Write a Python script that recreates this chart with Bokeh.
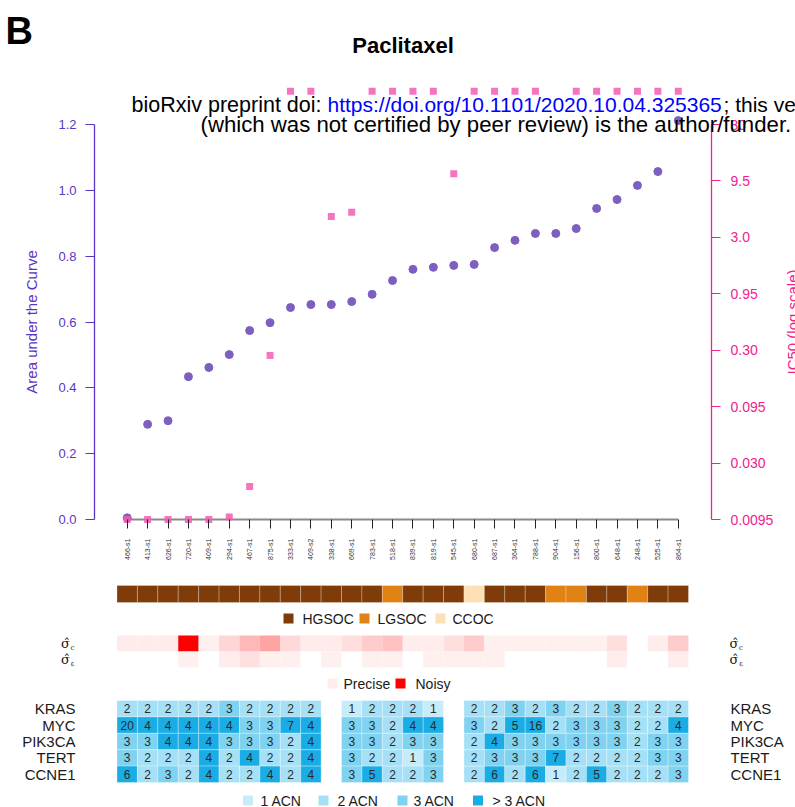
import math
from bokeh.plotting import figure
from bokeh.models import (Range1d, LinearScale, LogScale, LinearAxis, LogAxis, FixedTicker,
                          NumeralTickFormatter, Label)
from bokeh.embed import file_html
from bokeh.resources import INLINE
from bokeh.core.properties import value

nan = float("nan")

# ---------------- data ----------------
samples = ["466-s1", "413-s1", "626-s1", "720-s1", "409-s1", "294-s1", "467-s1", "875-s1",
           "333-s1", "409-s2", "338-s1", "669-s1", "783-s1", "518-s1", "839-s1", "819-s1",
           "545-s1", "680-s1", "687-s1", "364-s1", "788-s1", "904-s1", "156-s1", "800-s1",
           "648-s1", "248-s1", "525-s1", "864-s1"]
auc = [0.005, 0.289, 0.300, 0.434, 0.462, 0.501, 0.574, 0.598, 0.644, 0.653, 0.653, 0.662,
       0.684, 0.726, 0.760, 0.766, 0.772, 0.775, 0.826, 0.848, 0.869, 0.869, 0.884, 0.945,
       0.972, 1.015, 1.057, 1.212]
ic50 = [0.0095, 0.0095, 0.0095, 0.0095, 0.0095, 0.0100, 0.0186, 0.27, 59.0, 59.0, 4.6, 5.0,
        59.0, 59.0, 59.0, 59.0, 11.0, 59.0, 59.0, 59.0, 59.0, nan, 59.0, 59.0,
        59.0, 59.0, 59.0, 59.0]
histotype = ["HGSOC", "HGSOC", "HGSOC", "HGSOC", "HGSOC", "HGSOC", "HGSOC", "HGSOC",
             "HGSOC", "HGSOC", "HGSOC", "HGSOC", "HGSOC", "LGSOC", "HGSOC", "HGSOC",
             "HGSOC", "CCOC", "HGSOC", "HGSOC", "HGSOC", "LGSOC", "LGSOC", "HGSOC",
             "HGSOC", "LGSOC", "HGSOC", "HGSOC"]
sigma_c = [0.08, 0.08, 0.08, 1.0, 0.06, 0.16, 0.28, 0.36, 0.15, 0.08, 0.08, 0.13, 0.20, 0.24,
           0.07, 0.07, 0.13, 0.20, 0.06, 0.06, 0.06, 0.06, 0.06, 0.06, 0.13, 0.0, 0.07, 0.20]
sigma_e = [0.0, 0.0, 0.0, 0.06, 0.0, 0.07, 0.12, 0.06, 0.06, 0.0, 0.06, 0.0, 0.06, 0.06,
           0.0, 0.06, 0.06, 0.06, 0.06, 0.0, 0.0, 0.0, 0.0, 0.0, 0.07, 0.0, 0.0, 0.07]
genes = ["KRAS", "MYC", "PIK3CA", "TERT", "CCNE1"]
kras_acn = [2, 2, 2, 2, 2, 3, 2, 2, 2, 2, None, 1, 2, 2, 2, 1, None,
            2, 2, 3, 2, 3, 2, 2, 3, 2, 2, 2]
myc_acn = [20, 4, 4, 4, 4, 4, 3, 3, 7, 4, None, 3, 3, 2, 4, 4, None,
           3, 2, 5, 16, 2, 3, 3, 3, 2, 2, 4]
pik3ca_acn = [3, 3, 4, 4, 4, 3, 3, 3, 2, 4, None, 3, 3, 2, 3, 3, None,
              2, 4, 3, 3, 3, 3, 3, 3, 2, 3, 3]
tert_acn = [3, 2, 2, 2, 4, 2, 4, 2, 2, 4, None, 3, 2, 2, 1, 3, None,
            2, 3, 3, 3, 7, 2, 2, 2, 2, 3, 3]
ccne1_acn = [6, 2, 3, 2, 4, 2, 2, 4, 2, 4, None, 3, 5, 2, 2, 3, None,
             2, 6, 2, 6, 1, 2, 5, 2, 2, 2, 3]
acn_rows = [kras_acn, myc_acn, pik3ca_acn, tert_acn, ccne1_acn]
hist_names = ["HGSOC", "LGSOC", "CCOC"]
acn_labels = ["1 ACN", "2 ACN", "3 ACN", "> 3 ACN"]
auc_ticks = [0.0, 0.2, 0.4, 0.6, 0.8, 1.0, 1.2]
ic50_ticks = [0.0095, 0.03, 0.095, 0.3, 0.95, 3.0, 9.5, 30.0]
ic50_tick_labels = ["0.0095", "0.030", "0.095", "0.30", "0.95", "3.0", "9.5", "30"]

# ---------------- style ----------------
FONT = "Liberation Sans"
PURPLE = "#5b35c4"
PT_PURPLE = "#7d5fbf"
PINK = "#f0228f"
PINK_SQ = "#f25db1"
HIST_COL = {"HGSOC": "#7f3b08", "LGSOC": "#e08214", "CCOC": "#fee0b6"}
ACN_COL = ["#c6ebf9", "#a5e0f6", "#7fd2f0", "#1aade5"]
RED_PAL = ["#ff%02x%02x" % (255 - i, 255 - i) for i in range(256)]
TXT = "#1a1a1a"


def acn_color(v):
    return ACN_COL[min(v, 4) - 1]


def red_color(v):
    return RED_PAL[int(round(v * 255))]


W, H = 795, 807
COL0, COLW = 116.5, 20.41          # left edge of first column, column pitch (px)


def px2x(px):
    return 0.5 + (px - COL0) / COLW


xs = list(range(1, len(samples) + 1))

# scatter panel geometry (canvas px)
AX_L, AX_R, AX_B = 94, 711, 528    # left axis x, right axis x, x-axis (tick base) y
Y0, Y1 = 519, 124                  # px of lowest / highest axis tick
k = (auc_ticks[-1] - auc_ticks[0]) / (Y0 - Y1)
lg0, lg1 = math.log10(ic50_ticks[0]), math.log10(ic50_ticks[-1])
lk = (lg1 - lg0) / (Y0 - Y1)

p = figure(width=W, height=H, output_backend="svg", toolbar_location=None,
           x_range=Range1d(px2x(0), px2x(W)),
           y_range=Range1d(-(H - Y0) * k, Y0 * k),
           x_axis_location=None, y_axis_location=None,
           min_border=0, min_border_left=0, min_border_right=0,
           min_border_top=0, min_border_bottom=0, outline_line_color=None)
p.extra_y_ranges = {"ic50": Range1d(10 ** (lg0 - (H - Y0) * lk), 10 ** (lg1 + Y1 * lk)),
                    "track": Range1d(H, 0)}
p.extra_y_scales = {"ic50": LogScale(), "track": LinearScale()}
p.xgrid.visible = False
p.ygrid.visible = False

# left axis (AUC)
ya = LinearAxis(fixed_location=px2x(AX_L), ticker=FixedTicker(ticks=auc_ticks),
                formatter=NumeralTickFormatter(format="0.0"),
                bounds=(auc_ticks[0], auc_ticks[-1]))
ya.axis_line_color = PURPLE
ya.axis_line_width = 1.3
ya.major_tick_line_color = PURPLE
ya.major_tick_out = 9
ya.major_tick_in = 0
ya.minor_tick_out = 0
ya.minor_tick_in = 0
ya.major_label_standoff = 9
ya.major_label_text_color = PURPLE
ya.major_label_text_font = FONT
ya.major_label_text_font_size = "13px"
ya.axis_label = "Area under the Curve"
ya.axis_label_text_font = FONT
ya.axis_label_text_font_size = "15px"
ya.axis_label_text_font_style = "normal"
ya.axis_label_text_color = PURPLE
ya.axis_label_standoff = 15
p.add_layout(ya, "left")

# right axis (IC50, log)
ra = LogAxis(y_range_name="ic50", fixed_location=px2x(AX_R),
             ticker=FixedTicker(ticks=ic50_ticks),
             bounds=(ic50_ticks[0], ic50_ticks[-1]))
ra.major_label_overrides = dict(zip(ic50_ticks, ic50_tick_labels))
ra.axis_line_color = PINK
ra.axis_line_width = 1.3
ra.major_tick_line_color = PINK
ra.major_tick_out = 9
ra.major_tick_in = 0
ra.minor_tick_out = 0
ra.minor_tick_in = 0
ra.major_label_standoff = 10
ra.major_label_text_color = PINK
ra.major_label_text_font = FONT
ra.major_label_text_font_size = "14px"
p.add_layout(ra, "right")

# bottom axis (sample names)
xa = LinearAxis(fixed_location=-(AX_B - Y0) * k, ticker=FixedTicker(ticks=xs))
xa.major_label_overrides = {x: s for x, s in zip(xs, samples)}
xa.major_label_orientation = math.pi / 2
xa.major_label_text_font = FONT
xa.major_label_text_font_size = "7px"
xa.major_label_text_color = "#333333"
xa.major_label_standoff = 10
xa.axis_line_color = None
xa.major_tick_in = 9
xa.major_tick_out = 0
xa.major_tick_line_color = "#222222"
xa.minor_tick_in = 0
xa.minor_tick_out = 0
p.add_layout(xa, "below")

p.line([xs[0], xs[-1]], [auc_ticks[0], auc_ticks[0]], line_color="#8a8a8a", line_width=2)
p.scatter(xs, auc, size=8, fill_color=PT_PURPLE, line_color=PT_PURPLE)
p.scatter(xs, ic50, marker="square", size=7, fill_color=PINK_SQ, line_color=None,
          fill_alpha=0.85, y_range_name="ic50")


def lab(px, py, text, **kw):
    args = dict(x=px, y=H - py, x_units="screen", y_units="screen", text=text,
                text_font=FONT, text_color="#000000")
    args.update(kw)
    p.add_layout(Label(**args))


lab(5, 30, "B", text_font_size="38px", text_font_style="bold", text_baseline="middle")
lab(402.5, 45, "Paclitaxel", text_font_size="22px", text_font_style="bold",
    text_align="center", text_baseline="middle")
lab(131, 104, "bioRxiv preprint doi: ", text_font_size="21.5px", text_baseline="alphabetic")
lab(327, 104, "https://doi.org/10.1101/2020.10.04.325365", text_font_size="21px",
    text_baseline="alphabetic", text_color="#0000ff")
lab(723, 104, "; this version posted October 5, 2020.", text_font_size="21px",
    text_baseline="alphabetic")
lab(200, 124, "(which was not certified by peer review) is the author/funder.",
    text_font_size="22.2px", text_baseline="alphabetic")
lab(792, (Y0 + Y1) / 2, "IC50 (log scale)", text_font_size="15px", text_color=PINK,
    angle=math.pi / 2, text_align="center", text_baseline="middle")

# ---------------- annotation tracks (track range: canvas px, downward) ----------------
HIST_Y, HIST_H = 593.5, 17
HLEG_Y = 618
SIG_Y = [643, 659]
SIG_H = 16
PLEG_Y = 683
HEAT_TOP, ROW_H = 700, 16.4
ALEG_Y = 800
T = dict(y_range_name="track")

q = p
# histotype bar
q.rect(x=xs, y=[HIST_Y] * len(xs), width=1, height=HIST_H,
       fill_color=[HIST_COL[h] for h in histotype], line_color="white", line_alpha=0.25, **T)
hl_sq = [288, 364, 440]
hl_tx = [302, 377, 452]
q.rect(x=[px2x(v) for v in hl_sq], y=[HLEG_Y] * 3, width=10, height=10,
       width_units="screen", height_units="screen",
       fill_color=[HIST_COL[h] for h in hist_names], line_color=None, **T)
q.text(x=[px2x(v) for v in hl_tx], y=[HLEG_Y] * 3, text=hist_names,
       text_font=value(FONT), text_font_size="14px", text_color=TXT,
       text_baseline="middle", text_align="left", **T)

# sigma tracks
for row, vals in enumerate([sigma_c, sigma_e]):
    q.rect(x=xs, y=[SIG_Y[row]] * len(xs), width=1, height=SIG_H,
           fill_color=[red_color(v) for v in vals], line_color=None, **T)
for cx in [65, 733.5]:
    q.text(x=[px2x(cx)] * 2, y=SIG_Y, text=["σ\u0302", "σ\u0302"],
           text_font=value("DejaVu Serif"), text_font_size="13px", text_color=TXT,
           text_baseline="middle", text_align="center", **T)
    q.text(x=[px2x(cx + 7)] * 2, y=[SIG_Y[0] + 4, SIG_Y[1] + 4], text=["c", "ε"],
           text_font=value("DejaVu Serif"), text_font_size="7px", text_color=TXT,
           text_baseline="middle", text_align="center", **T)
q.rect(x=[px2x(332), px2x(400)], y=[PLEG_Y] * 2, width=10, height=10,
       width_units="screen", height_units="screen",
       fill_color=[red_color(0.07), red_color(1.0)], line_color=None, **T)
q.text(x=[px2x(343), px2x(415)], y=[PLEG_Y] * 2, text=["Precise", "Noisy"],
       text_font=value(FONT), text_font_size="14px", text_color=TXT,
       text_baseline="middle", text_align="left", **T)

# ACN heatmap
hx, hy, hc, ht = [], [], [], []
for r, vals in enumerate(acn_rows):
    for i, v in enumerate(vals):
        if v is None:
            continue
        hx.append(xs[i])
        hy.append(HEAT_TOP + (r + 0.5) * ROW_H)
        hc.append(acn_color(v))
        ht.append(str(v))
q.rect(x=hx, y=hy, width=1, height=ROW_H, fill_color=hc, line_color="white",
       line_alpha=0.3, **T)
q.text(x=hx, y=hy, text=ht, text_font=value(FONT), text_font_size="12px",
       text_color="#2a2a2a", text_baseline="middle", text_align="center", **T)
gy = [HEAT_TOP + (r + 0.5) * ROW_H for r in range(len(genes))]
q.text(x=[px2x(75)] * len(genes), y=gy, text=genes, text_font=value(FONT),
       text_font_size="15px", text_color=TXT, text_baseline="middle", text_align="right", **T)
q.text(x=[px2x(730)] * len(genes), y=gy, text=genes, text_font=value(FONT),
       text_font_size="15px", text_color=TXT, text_baseline="middle", text_align="left", **T)
al_sq = [247.5, 323, 402, 477.5]
al_tx = [260, 337, 413, 492]
q.rect(x=[px2x(v) for v in al_sq], y=[ALEG_Y] * 4, width=10, height=10,
       width_units="screen", height_units="screen", fill_color=ACN_COL, line_color=None, **T)
q.text(x=[px2x(v) for v in al_tx], y=[ALEG_Y] * 4, text=acn_labels,
       text_font=value(FONT), text_font_size="14px", text_color=TXT,
       text_baseline="middle", text_align="left", **T)

open("out.html", "w").write(file_html(p, INLINE))
